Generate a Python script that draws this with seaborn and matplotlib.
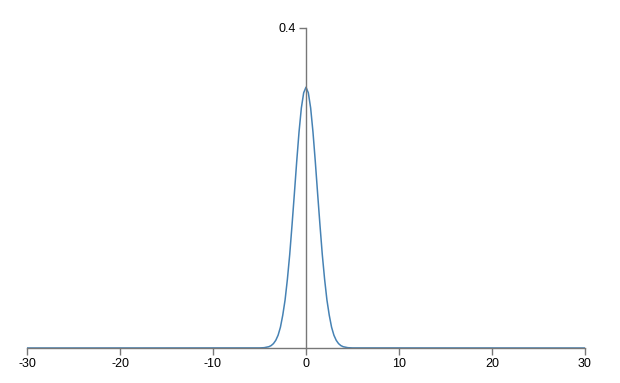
import matplotlib
matplotlib.use("Agg")
import matplotlib.pyplot as plt
import seaborn as sns
import pandas as pd

# values
x_vals = [-30, -5, -4.5, -4, -3.75, -3.5, -3.25, -3, -2.75, -2.5, -2.25, -2, -1.75, -1.5, -1.25, -1,
          -0.75, -0.5, -0.25, 0, 0.25, 0.5, 0.75, 1, 1.25, 1.5, 1.75, 2, 2.25, 2.5, 2.75, 3,
          3.25, 3.5, 3.75, 4, 4.5, 5, 30]
y_vals = [0, 0.0001, 0.0004, 0.0016, 0.0030, 0.0055, 0.0096, 0.016, 0.026, 0.041, 0.060, 0.086, 0.117, 0.154, 0.193, 0.233,
          0.270, 0.300, 0.319, 0.326, 0.319, 0.300, 0.270, 0.233, 0.193, 0.154, 0.117, 0.086, 0.060, 0.041, 0.026, 0.016,
          0.0096, 0.0055, 0.0030, 0.0016, 0.0004, 0.0001, 0]
x_ticks = [-30, -20, -10, 0, 10, 20, 30]
y_ticks = [0.4]

sns.set_style("white")
plt.rcParams['font.family'] = ['Liberation Sans', 'DejaVu Sans']

df = pd.DataFrame({"x": x_vals, "y": y_vals})
fig = plt.figure(figsize=(6.2, 3.83), dpi=100)
ax = fig.add_axes([27/620, (383-348)/383, (585-27)/620, (348-28)/383])
sns.lineplot(data=df, x="x", y="y", ax=ax, color="#4682b4", linewidth=1.1)
ax.set_xlim(-30, 30)
ax.set_ylim(0, 0.4)
ax.set_xticks(x_ticks)
ax.set_xticklabels([str(t) for t in x_ticks])
ax.set_yticks(y_ticks)
ax.set_yticklabels(["0.4"])
ax.set_xlabel("")
ax.set_ylabel("")
for s in ["top", "right"]:
    ax.spines[s].set_visible(False)
ax.spines["left"].set_position(("data", 0))
for s in ["left", "bottom"]:
    ax.spines[s].set_color("#777777")
    ax.spines[s].set_linewidth(1)
ax.tick_params(axis="both", direction="out", length=5, width=1, color="#777777",
               labelsize=9, labelcolor="black", pad=2, bottom=True, left=True)
fig.savefig("out.png", dpi=100)
